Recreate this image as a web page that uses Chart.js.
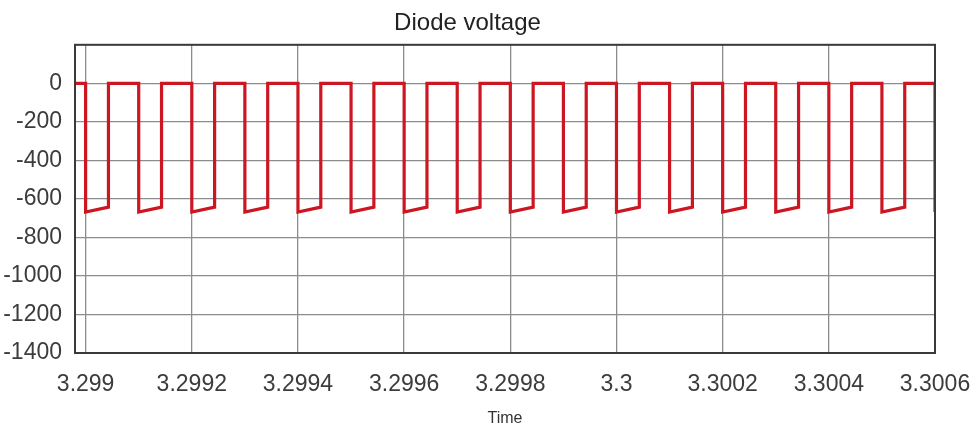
<!DOCTYPE html>
<html>
<head>
<meta charset="utf-8">
<script src="https://cdn.jsdelivr.net/npm/chart.js@4/dist/chart.umd.min.js"></script>
<style>
  html, body { margin: 0; padding: 0; background: #fff; }
  #wrap { width: 976px; height: 431px; }
</style>
</head>
<body>
<div id="wrap"><canvas id="diode_volt"></canvas></div>
<script>
// time axis ticks
xTicks = [3.2990, 3.2992, 3.2994, 3.2996, 3.2998, 3.3000, 3.3002, 3.3004, 3.3006]
xTickLabels = ['3.299', '3.2992', '3.2994', '3.2996', '3.2998', '3.3', '3.3002', '3.3004', '3.3006']

// diode voltage waveform (s, V)
timeVals = [
  3.29898,
  3.29900, 3.29900, 3.299043, 3.299043,
  3.29910, 3.29910, 3.299143, 3.299143,
  3.29920, 3.29920, 3.299243, 3.299243,
  3.29930, 3.29930, 3.299343, 3.299343,
  3.29940, 3.29940, 3.299443, 3.299443,
  3.29950, 3.29950, 3.299543, 3.299543,
  3.29960, 3.29960, 3.299643, 3.299643,
  3.29970, 3.29970, 3.299743, 3.299743,
  3.29980, 3.29980, 3.299843, 3.299843,
  3.29990, 3.29990, 3.299943, 3.299943,
  3.30000, 3.30000, 3.300043, 3.300043,
  3.30010, 3.30010, 3.300143, 3.300143,
  3.30020, 3.30020, 3.300243, 3.300243,
  3.30030, 3.30030, 3.300343, 3.300343,
  3.30040, 3.30040, 3.300443, 3.300443,
  3.30050, 3.30050, 3.300543, 3.300543,
  3.30060, 3.30060
]
voltVals = [
  0,
  0, -668, -643, 0,
  0, -668, -643, 0,
  0, -668, -643, 0,
  0, -668, -643, 0,
  0, -668, -643, 0,
  0, -668, -643, 0,
  0, -668, -643, 0,
  0, -668, -643, 0,
  0, -668, -643, 0,
  0, -668, -643, 0,
  0, -668, -643, 0,
  0, -668, -643, 0,
  0, -668, -643, 0,
  0, -668, -643, 0,
  0, -668, -643, 0,
  0, -668, -643, 0,
  0, -668
]

points = []
timeVals.forEach((t, i) => {
  points.push({x: t, y: voltVals[i]});
});

tickFont = {family: "'Liberation Sans', Arial, sans-serif", size: 23};

// plot box all round, like the original
boxPlugin = {
  id: 'box',
  afterDraw(chart) {
    const a = chart.chartArea, ctx = chart.ctx;
    ctx.save();
    ctx.strokeStyle = '#3a3a3a';
    ctx.lineWidth = 2;
    ctx.strokeRect(a.left, a.top, a.right - a.left, a.bottom - a.top);
    ctx.restore();
  }
};

config = {
  type: 'line',
  data: {
    datasets: [{
      label: 'Diode voltage',
      data: points,
      borderColor: 'rgb(204, 22, 34)',
      borderWidth: 3.2,
      pointRadius: 0,
      tension: 0,
      fill: false
    }]
  },
  options: {
    responsive: true,
    maintainAspectRatio: false,
    animation: false,
    layout: {padding: {left: 0, right: 41, top: 0, bottom: 0}},
    plugins: {
      legend: {display: false},
      tooltip: {enabled: false},
      title: {
        display: true,
        text: 'Diode voltage',
        color: '#222',
        font: {family: "'Liberation Sans', Arial, sans-serif", size: 24, weight: 'normal'},
        padding: {top: 9, bottom: 7}
      }
    },
    scales: {
      x: {
        type: 'linear',
        min: 3.29898,
        max: 3.3006,
        afterBuildTicks: axis => { axis.ticks = xTicks.map(v => ({value: v})); },
        afterFit: axis => { axis.height = 78; },
        ticks: {
          color: '#3c3c3c',
          font: tickFont,
          padding: 5,
          maxRotation: 0,
          autoSkip: false,
          callback: (v, i) => xTickLabels[i]
        },
        grid: {color: '#8c8c8c', lineWidth: 1.3, drawTicks: true, tickLength: 13, tickColor: 'rgba(0,0,0,0)'},
        border: {display: false},
        title: {
          display: true,
          text: 'Time',
          color: '#333',
          font: {family: "'Liberation Sans', Arial, sans-serif", size: 16},
          padding: {top: 4, bottom: 3}
        }
      },
      y: {
        min: -1400,
        max: 200,
        afterFit: axis => { axis.width = 75; },
        ticks: {
          stepSize: 200,
          color: '#3c3c3c',
          font: tickFont,
          padding: 13,
          callback: v => (v > 0 ? '' : v)
        },
        grid: {color: '#8c8c8c', lineWidth: 1.3, drawTicks: false},
        border: {display: false}
      }
    }
  },
  plugins: [boxPlugin]
};

var myChart = new Chart(document.getElementById('diode_volt'), config);
</script>
</body>
</html>
